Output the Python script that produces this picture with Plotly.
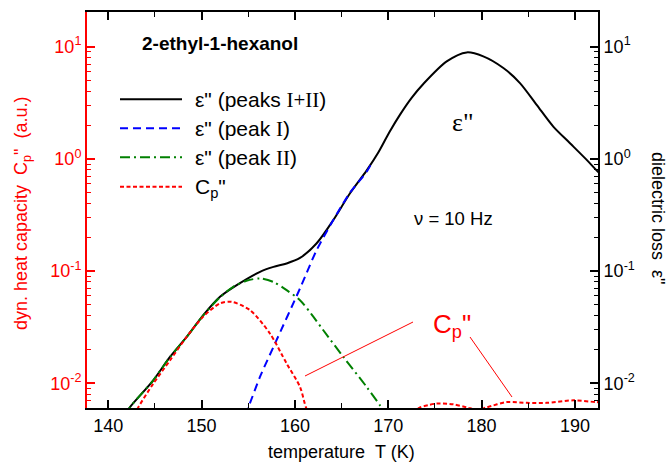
import plotly.graph_objects as go

# ---------------- data ----------------
T_sum = [141.8, 142.33, 144.82, 146.61, 148.40, 150.18, 151.97, 153.76, 156.26, 157.7,
         159.11, 160.54, 162.33, 164.11, 165.90, 167.69, 168.93, 170.1, 171.26, 172.5,
         173.75, 176.26, 178.40, 180.18, 182.33, 184.11, 185.90, 187.68, 189.47, 191.26,
         192.47, 193.2]
eps_sum = [0.0052, 0.00614, 0.01064, 0.01717, 0.0259, 0.0405, 0.059, 0.075, 0.0986, 0.109,
           0.117, 0.131, 0.177, 0.285, 0.494, 0.79, 1.14, 1.72, 2.48, 3.5,
           4.65, 7.39, 8.89, 8.19, 6.45, 4.74, 3.03, 1.94, 1.38, 0.98,
           0.766, 0.68]

T_I = [154.6, 155.0, 156.25, 157.86, 160.54, 162.33, 164.11, 165.90, 167.69, 168.25]
eps_I = [0.0052, 0.0061, 0.0114, 0.0226, 0.070, 0.154, 0.285, 0.50, 0.77, 0.93]

T_II = [141.8, 142.33, 144.82, 146.61, 148.40, 150.18, 151.97, 153.39, 154.8, 156.25,
        157.7, 159.11, 160.54, 161.8, 163.04, 165.18, 167.69, 169.11, 169.8]
eps_II = [0.0052, 0.00614, 0.01064, 0.01717, 0.0259, 0.0403, 0.0585, 0.0724, 0.082, 0.086,
          0.080, 0.0676, 0.055, 0.041, 0.0297, 0.0172, 0.00927, 0.00636, 0.0052]

T_cp = [142.8, 143.21, 144.82, 146.61, 148.40, 150.18, 151.97, 153.22, 155.18, 157.32,
        159.11, 160.54, 161.18, 161.6, None, 172.6, 173.4, 174.3, 175.19, 176.97,
        178.40, 179.5, 180.54, 182.69, 184.83, 186.97, 189.82, 192.33, 193.0]
cp = [0.0052, 0.0061, 0.00993, 0.016, 0.0259, 0.0393, 0.0515, 0.0532, 0.0449, 0.0278,
      0.015, 0.0093, 0.0061, 0.0052, None, 0.0055, 0.0061, 0.0064, 0.0066, 0.0065,
      0.0061, 0.0058, 0.0061, 0.0068, 0.0067, 0.0067, 0.00705, 0.0068, 0.0068]

x_ticks = [140, 150, 160, 170, 180, 190]
y_ticks = [0.01, 0.1, 1, 10]
y_tick_text = ["10<sup>-2</sup>", "10<sup>-1</sup>", "10<sup>0</sup>", "10<sup>1</sup>"]
y_minor = [m * 10 ** e for e in (-3, -2, -1, 0, 1) for m in range(2, 10)]

# ---------------- figure ----------------
W, H = 668, 464
L, R, TOP, B = 87, 70, 12, 56
PW, PH = W - L - R, H - TOP - B


def px(x):
    return (x - L) / PW


def py(y):
    return (H - B - y) / PH


SANS = "Liberation Sans, Arial, sans-serif"
SERIF = "Liberation Serif, Times New Roman, serif"

sty = {
    "sum": dict(color="black", width=2, dash="solid"),
    "I": dict(color="#0000ff", width=2, dash="8px,5px"),
    "II": dict(color="#008000", width=2, dash="10px,4px,2px,4px"),
    "cp": dict(color="#ff0000", width=2, dash="4px,2.5px"),
}

fig = go.Figure()
for name, xs, ys, key in [("ε'' (peaks I+II)", T_sum, eps_sum, "sum"),
                          ("ε'' (peak I)", T_I, eps_I, "I"),
                          ("ε'' (peak II)", T_II, eps_II, "II"),
                          ("Cp''", T_cp, cp, "cp")]:
    fig.add_trace(go.Scatter(x=xs, y=ys, mode="lines", name=name, showlegend=False,
                             line=dict(shape="spline", smoothing=0.8, **sty[key]),
                             connectgaps=False, hoverinfo="skip"))

# empty trace so the right-hand (dielectric loss) axis and top axis get drawn
fig.add_trace(go.Scatter(x=[None], y=[None], xaxis="x2", yaxis="y2", mode="lines",
                         showlegend=False, hoverinfo="skip"))

xr = [137.72, 192.47]
yr = [-2.220, 1.309]


def yaxis_cfg(color, **kw):
    d = dict(type="log", range=yr, tickmode="array", tickvals=y_ticks, ticktext=y_tick_text,
             ticks="inside", ticklen=8, tickwidth=1.5, showgrid=False, zeroline=False,
             showline=True, linewidth=2, linecolor=color, tickcolor=color,
             tickfont=dict(size=18, color=color),
             minor=dict(tickmode="array", tickvals=y_minor, ticks="inside", ticklen=4,
                        tickwidth=1.2, tickcolor=color, showgrid=False))
    d.update(kw)
    return d


def xaxis_cfg(**kw):
    d = dict(range=xr, tickmode="array", tickvals=x_ticks,
             ticks="inside", ticklen=8, tickwidth=1.5, tickcolor="black",
             showline=True, linewidth=2, linecolor="black",
             showgrid=False, zeroline=False,
             tickfont=dict(size=18, color="black"),
             minor=dict(dtick=5, tick0=140, ticks="inside", ticklen=5, tickwidth=1.2,
                        tickcolor="black", showgrid=False))
    d.update(kw)
    return d


fig.update_layout(
    width=W, height=H,
    margin=dict(l=L, r=R, t=TOP, b=B, pad=0),
    paper_bgcolor="white", plot_bgcolor="white",
    font=dict(family=SANS, size=18, color="black"),
    showlegend=False,
    xaxis=xaxis_cfg(),
    xaxis2=xaxis_cfg(overlaying="x", side="top", anchor="y2", showticklabels=False),
    yaxis=yaxis_cfg("#ff0000"),
    yaxis2=yaxis_cfg("black", overlaying="y", side="right", anchor="x2"),
)

anns = []


def ann(text, x, y, size=18, color="black", xanchor="center", yanchor="middle",
        angle=0, family=SANS):
    anns.append(dict(text=text, x=px(x), y=py(y), xref="paper", yref="paper",
                     showarrow=False, xanchor=xanchor, yanchor=yanchor, textangle=angle,
                     font=dict(size=size, color=color, family=family)))


ann("<b>2-ethyl-1-hexanol</b>", 140, 43, size=19, xanchor="left")

leg_rows = [
    ("sum", 99.3, 'ε" (peaks <span style="font-family:Liberation Serif">I+II</span>)'),
    ("I", 128.3, 'ε" (peak <span style="font-family:Liberation Serif">I</span>)'),
    ("II", 157.3, 'ε" (peak <span style="font-family:Liberation Serif">II</span>)'),
    ("cp", 186.7, 'C<sub>p</sub>"'),
]
shapes = []
for key, yy, txt in leg_rows:
    s = sty[key]
    shapes.append(dict(type="line", xref="paper", yref="paper", x0=px(120), x1=px(182),
                       y0=py(yy), y1=py(yy),
                       line=dict(color=s["color"], width=s["width"], dash=s["dash"])))
    ann(txt, 193, yy + 1, size=21, xanchor="left")

ann('ε"', 463, 122, size=26, family=SERIF)
ann("ν = 10 Hz", 412, 218, size=18.5, xanchor="left")
ann('C<sub>p</sub>"', 431, 325, size=26, color="#ff0000", xanchor="left")

shapes.append(dict(type="line", xref="paper", yref="paper", x0=px(305), y0=py(376),
                   x1=px(413), y1=py(322), line=dict(color="#ff0000", width=1)))
shapes.append(dict(type="line", xref="paper", yref="paper", x0=px(470), y0=py(337),
                   x1=px(512), y1=py(397), line=dict(color="#ff0000", width=1)))

ann("temperature\u00a0\u00a0T (K)", 341, 452, size=18)
ann("dyn. heat capacity\u00a0\u00a0C<sub>p</sub>\"\u00a0\u00a0(a.u.)", 22, 213, size=18,
    color="#ff0000", angle=-90)
ann("dielectric loss\u00a0\u00a0ε\"", 658, 218, size=18, angle=90)

fig.update_layout(annotations=anns, shapes=shapes)
fig.write_html("out.html")
